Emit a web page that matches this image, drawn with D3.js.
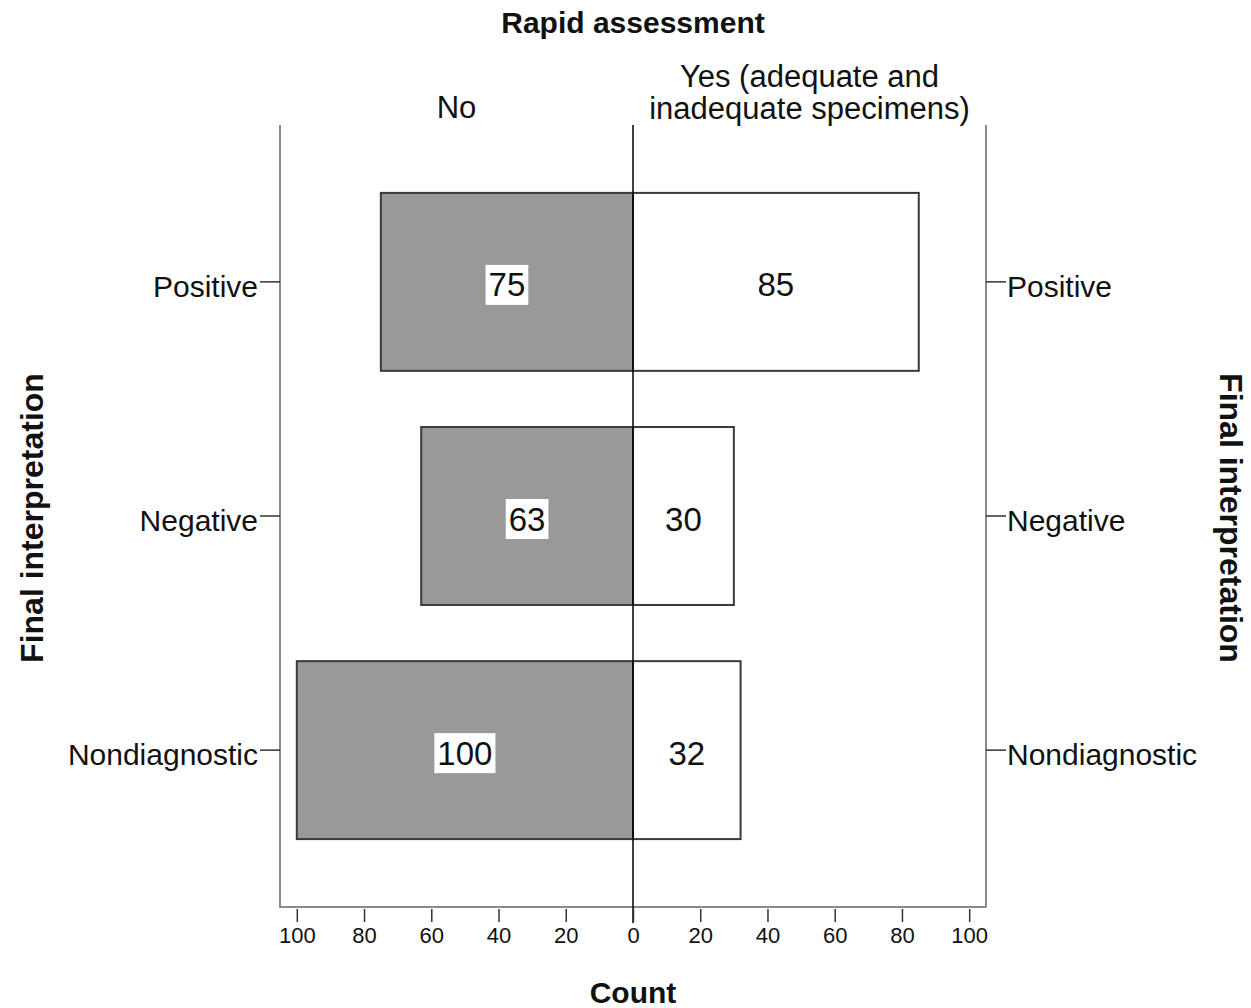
<!DOCTYPE html>
<html>
<head>
<meta charset="utf-8">
<script src="https://cdn.jsdelivr.net/npm/d3@7"></script>
<style>
  html, body { margin: 0; padding: 0; background: #fff; }
  svg { display: block; }
  text { font-family: "Liberation Sans", Arial, sans-serif; fill: #111; }
</style>
</head>
<body>
<svg id="chart" width="1251" height="1008"></svg>
<script>
// ---- Data ----
const categories = ["Positive", "Negative", "Nondiagnostic"];
const groups = ["No", "Yes (adequate and inadequate specimens)"];
const noValues = [75, 63, 100];
const yesValues = [85, 30, 32];
const xTicks = [-100, -80, -60, -40, -20, 0, 20, 40, 60, 80, 100];
const titleTop = "Rapid assessment";
const titleBottom = "Count";
const titleSide = "Final interpretation";

// ---- Layout ----
const svg = d3.select("#chart");
const frame = { left: 280, right: 986, top: 125, bottom: 907 };

const x = d3.scaleLinear().domain([-105, 105]).range([frame.left, frame.right]);
const y = d3.scaleBand().domain(categories)
  .range([frame.top, frame.bottom]).paddingInner(0.24).paddingOuter(0.29);

const rows = categories.map((c, i) => ({ cat: c, no: noValues[i], yes: yesValues[i] }));

// Bars
const g = svg.append("g");
g.selectAll("rect.no").data(rows).enter().append("rect")
  .attr("class", "no")
  .attr("x", d => x(-d.no)).attr("y", d => y(d.cat))
  .attr("width", d => x(0) - x(-d.no)).attr("height", y.bandwidth())
  .attr("fill", "#999999").attr("stroke", "#3a3a3a").attr("stroke-width", 2);
g.selectAll("rect.yes").data(rows).enter().append("rect")
  .attr("class", "yes")
  .attr("x", x(0)).attr("y", d => y(d.cat))
  .attr("width", d => x(d.yes) - x(0)).attr("height", y.bandwidth())
  .attr("fill", "#ffffff").attr("stroke", "#3a3a3a").attr("stroke-width", 2);

// Frame (left, right, bottom)
svg.append("path")
  .attr("d", `M${frame.left},${frame.top}V${frame.bottom}H${frame.right}V${frame.top}`)
  .attr("fill", "none").attr("stroke", "#666").attr("stroke-width", 1.5);

// Center line
svg.append("line")
  .attr("x1", x(0)).attr("x2", x(0)).attr("y1", frame.top).attr("y2", frame.bottom + 16)
  .attr("stroke", "#000").attr("stroke-width", 1.5);

// Value labels
const valFont = 33;
rows.forEach(d => {
  const cy = y(d.cat) + y.bandwidth() / 2 + 3;
  const cxNo = (x(-d.no) + x(0)) / 2;
  const t = g.append("text").attr("x", cxNo).attr("y", cy)
    .attr("text-anchor", "middle").attr("dominant-baseline", "central")
    .style("font-size", valFont + "px").text(d.no);
  const bb = t.node().getBBox();
  g.insert("rect", () => t.node())
    .attr("x", bb.x - 3).attr("y", cy - 20).attr("width", bb.width + 6).attr("height", 40)
    .attr("fill", "#fff");
  const cxYes = (x(0) + x(d.yes)) / 2;
  g.append("text").attr("x", cxYes).attr("y", cy)
    .attr("text-anchor", "middle").attr("dominant-baseline", "central")
    .style("font-size", valFont + "px").text(d.yes);
});

// Bottom axis
const xAxis = d3.axisBottom(x).tickValues(xTicks).tickSize(13).tickPadding(5)
  .tickFormat(d => Math.abs(d));
const gx = svg.append("g").attr("transform", `translate(0,${frame.bottom + 2})`).call(xAxis);
gx.select(".domain").remove();
gx.selectAll(".tick line").attr("stroke", "#333").attr("stroke-width", 1.5);
gx.selectAll(".tick text").style("font-size", "22px").attr("fill", "#111");

// Left axis
const yl = d3.axisLeft(y).tickSize(20).tickPadding(2);
const gyl = svg.append("g").attr("transform", `translate(${frame.left},0)`).call(yl);
gyl.select(".domain").remove();
gyl.selectAll(".tick line").attr("stroke", "#333").attr("stroke-width", 1.5);
gyl.selectAll(".tick text").style("font-size", "30px").attr("fill", "#111").attr("dy", "0.5em");

// Right axis
const yr = d3.axisRight(y).tickSize(20).tickPadding(1);
const gyr = svg.append("g").attr("transform", `translate(${frame.right},0)`).call(yr);
gyr.select(".domain").remove();
gyr.selectAll(".tick line").attr("stroke", "#333").attr("stroke-width", 1.5);
gyr.selectAll(".tick text").style("font-size", "30px").attr("fill", "#111").attr("dy", "0.5em");

// Group headers
const midNo = (frame.left + x(0)) / 2;
const midYes = (x(0) + frame.right) / 2;
svg.append("text").attr("x", midNo).attr("y", 118).attr("text-anchor", "middle")
  .style("font-size", "31px").text(groups[0]);
const yesLines = ["Yes (adequate and", "inadequate specimens)"];
yesLines.forEach((l, i) => {
  svg.append("text").attr("x", midYes).attr("y", 87 + i * 32).attr("text-anchor", "middle")
    .style("font-size", "31px").text(l);
});

// Titles
svg.append("text").attr("x", x(0)).attr("y", 33).attr("text-anchor", "middle")
  .style("font-size", "30px").style("font-weight", "bold").text(titleTop);
svg.append("text").attr("x", x(0)).attr("y", 1003).attr("text-anchor", "middle")
  .style("font-size", "30px").style("font-weight", "bold").text(titleBottom);
const midY = 518;
svg.append("text").attr("transform", `translate(43,${midY}) rotate(-90)`)
  .attr("text-anchor", "middle").style("font-size", "32px").style("font-weight", "bold").text(titleSide);
svg.append("text").attr("transform", `translate(1220,${midY}) rotate(90)`)
  .attr("text-anchor", "middle").style("font-size", "32px").style("font-weight", "bold").text(titleSide);
</script>
</body>
</html>
